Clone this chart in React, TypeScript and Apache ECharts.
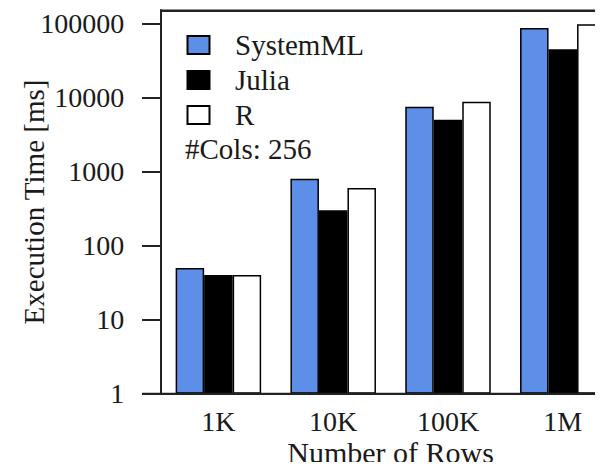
import React, { useEffect, useRef } from "react";
import * as echarts from "echarts";

const categories = ["1K", "10K", "100K", "1M"];
const seriesNames = ["SystemML", "Julia", "R"];
const systemML = [50, 800, 7500, 87000];
const julia = [40, 300, 5000, 45000];
const rValues = [40, 600, 8800, 97500];
const yTicks = [1, 10, 100, 1000, 10000, 100000];
const colors = ["#5d8fe8", "#000000", "#ffffff"];
const annotation = "#Cols: 256";
const yName = "Execution Time [ms]";
const xName = "Number of Rows";

const FONT = "'Liberation Serif', 'Times New Roman', serif";
const TXT = "#1a1a1a";
const FRAME = "#222222";

export default function App() {
  const ref = useRef<HTMLDivElement>(null);
  useEffect(() => {
    if (!ref.current) return;
    const chart = echarts.init(ref.current, undefined, { renderer: "svg" });
    const data = [systemML, julia, rValues];
    chart.setOption({
      animation: false,
      grid: {
        left: 161,
        right: -17.2,
        top: 10.5,
        bottom: 76.3,
        containLabel: false,
        outerBoundsMode: "none",
      },
      legend: {
        orient: "vertical",
        left: 181.5,
        top: 25.5,
        itemWidth: 22,
        itemHeight: 18,
        itemGap: 6,
        icon: "rect",
        data: seriesNames,
        textStyle: {
          fontFamily: FONT,
          fontSize: 29,
          color: TXT,
          padding: [0, 0, 0, 20.5],
        },
      },
      xAxis: [
        {
          type: "category",
          data: categories,
          name: xName,
          nameLocation: "middle",
          nameGap: 44,
          nameMoveOverlap: false,
          nameTextStyle: { fontFamily: FONT, fontSize: 30, color: TXT },
          axisLine: { show: true, onZero: false, lineStyle: { color: FRAME, width: 2 } },
          axisTick: { show: false },
          axisLabel: { fontFamily: FONT, fontSize: 28, color: TXT, margin: 14 },
        },
        {
          type: "category",
          data: categories,
          position: "top",
          axisLine: { show: true, onZero: false, lineStyle: { color: FRAME, width: 2 } },
          axisTick: { show: false },
          axisLabel: { show: false },
        },
      ],
      yAxis: {
        type: "log",
        logBase: 10,
        min: 1,
        max: 149800,
        axisLine: { show: true, onZero: false, lineStyle: { color: FRAME, width: 2 } },
        axisTick: {
          show: true,
          length: 19,
          customValues: yTicks,
          lineStyle: { color: FRAME, width: 2 },
        },
        splitLine: { show: false },
        axisLabel: {
          fontFamily: FONT,
          fontSize: 28,
          color: TXT,
          margin: 36.7,
          customValues: yTicks,
          formatter: (v: number) => {
            const r = Math.round(v);
            return yTicks.indexOf(r) >= 0 ? String(r) : "";
          },
        },
      },
      graphic: [
        {
          type: "rect",
          z: 100,
          silent: true,
          shape: { x: 160, y: 9.5, width: 2, height: 385.2 },
          style: { fill: FRAME },
        },
        {
          type: "rect",
          z: 100,
          silent: true,
          shape: { x: 160, y: 9.5, width: 460, height: 2 },
          style: { fill: FRAME },
        },
        {
          type: "rect",
          z: 100,
          silent: true,
          shape: { x: 142, y: 392.7, width: 480, height: 2 },
          style: { fill: FRAME },
        },
        {
          type: "text",
          left: 185,
          top: 134,
          style: { text: annotation, font: `29px ${FONT}`, fill: TXT },
        },
        {
          type: "text",
          x: 34,
          y: 202,
          rotation: Math.PI / 2,
          style: {
            text: yName,
            font: `29px ${FONT}`,
            fill: TXT,
            align: "center",
            verticalAlign: "middle",
          },
        },
      ],
      series: seriesNames.map((name, i) => ({
        name,
        type: "bar",
        xAxisIndex: 0,
        data: data[i],
        barWidth: 28.5,
        barGap: "0%",
        itemStyle: { color: colors[i], borderColor: "#000", borderWidth: 1.5 },
      })),
    });
    return () => chart.dispose();
  }, []);
  return <div ref={ref} style={{ width: 603, height: 470, margin: -8 }} />;
}
